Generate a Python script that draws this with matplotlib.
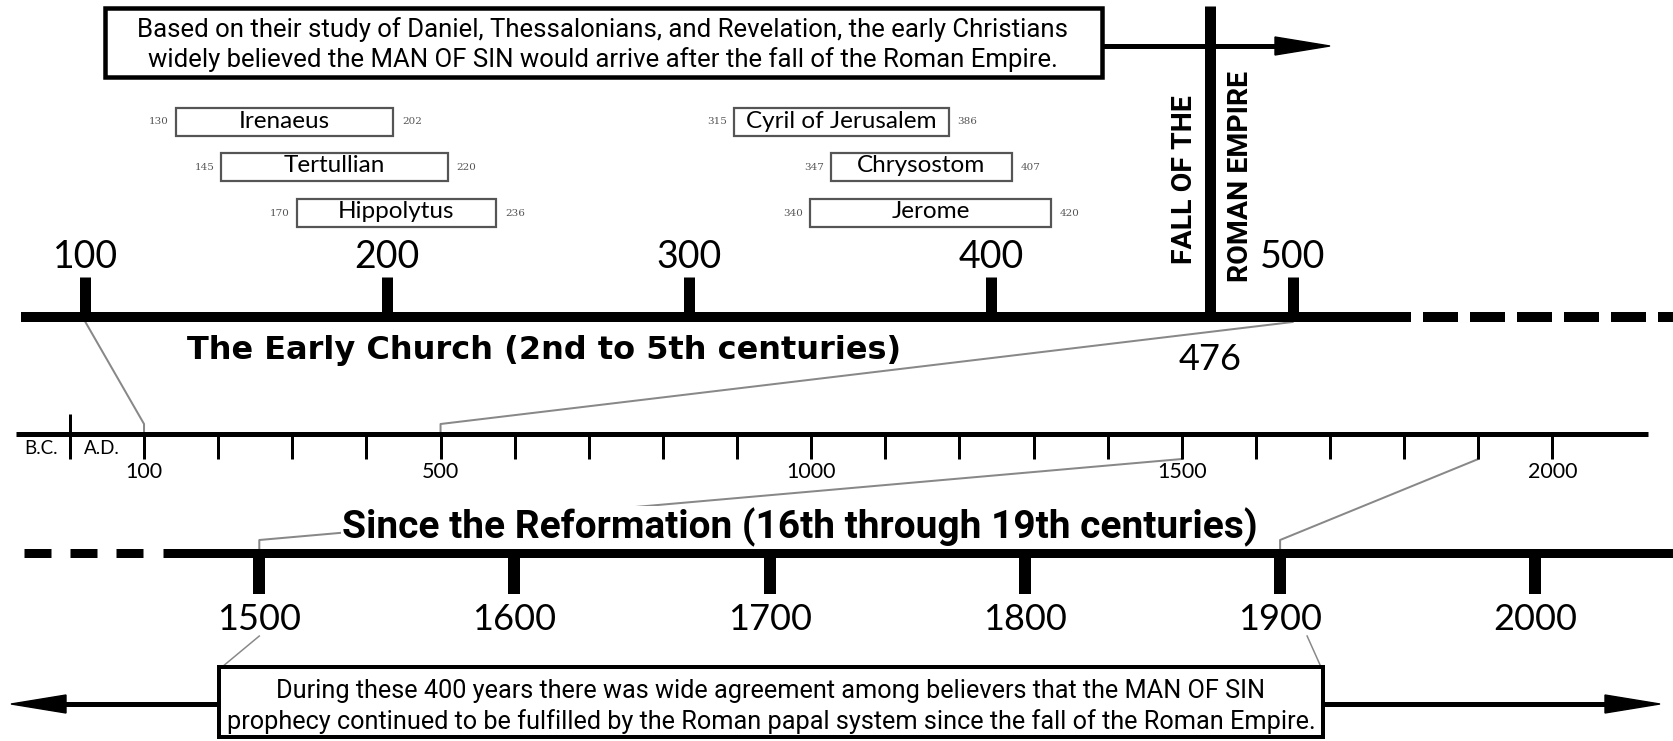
import matplotlib
matplotlib.use("Agg")
import matplotlib.pyplot as plt
from matplotlib.patches import Rectangle, Polygon
from matplotlib import font_manager as fm

# ---------------- data ----------------
names = ["Irenaeus", "Tertullian", "Hippolytus", "Cyril of Jerusalem", "Chrysostom", "Jerome"]
births = [130, 145, 170, 315, 347, 340]
deaths = [202, 220, 236, 386, 407, 420]
rows = [0, 1, 2, 0, 1, 2]

top_ticks = [100, 200, 300, 400, 500]
fall_year = 476
mid_ticks = list(range(100, 2001, 100))
mid_labels = [100, 500, 1000, 1500, 2000]
bottom_ticks = [1500, 1600, 1700, 1800, 1900, 2000]

top_note = ["Based on their study of Daniel, Thessalonians, and Revelation, the early Christians",
            "widely believed the MAN OF SIN would arrive after the fall of the Roman Empire."]
bottom_note = ["During these 400 years there was wide agreement among believers that the MAN OF SIN",
               "prophecy continued to be fulfilled by the Roman papal system since the fall of the Roman Empire."]
title_top = "The Early Church (2nd to 5th centuries)"
title_bottom = "Since the Reformation (16th through 19th centuries)"

# ---------------- fonts ----------------
avail = {f.name for f in fm.fontManager.ttflist}
NARROW = "Liberation Sans Narrow" if "Liberation Sans Narrow" in avail else "Roboto"
NUM = "Lato"

W, H = 1673, 741
fig = plt.figure(figsize=(W / 100, H / 100), dpi=100)
ax = fig.add_axes([0, 0, 1, 1])
ax.set_xlim(0, W)
ax.set_ylim(H, 0)
ax.axis("off")
plt.rcParams["lines.scale_dashes"] = False

def pt(px):
    return px * 0.72

# scales
def x_top(y):
    return 85.4 + (y - 100) * 3.018
def x_mid(y):
    return 69.9 + y * 0.7413
def x_bot(y):
    return 259.3 + (y - 1500) * 2.552

def arrow(x0, x1, y, lw=5, hl=55, hw=18):
    d = 1 if x1 > x0 else -1
    ax.plot([x0, x1 - d * hl * 0.8], [y, y], color="black", lw=pt(lw), solid_capstyle="butt")
    ax.add_patch(Polygon([[x1, y], [x1 - d * hl, y - hw / 2], [x1 - d * hl, y + hw / 2]],
                         closed=True, color="black"))

# ---------------- top note box ----------------
ax.add_patch(Rectangle((105, 8), 997, 69, fill=False, lw=pt(4.5), ec="black", zorder=3))
ax.text(603, 30, top_note[0], ha="center", va="center", fontsize=18.5, family=NARROW)
ax.text(603, 60, top_note[1], ha="center", va="center", fontsize=18.5, family=NARROW)
arrow(1102, 1330, 46)

# ---------------- fall of Rome bar ----------------
xf = x_top(fall_year) - 10
ax.plot([xf, xf], [6, 317], color="black", lw=pt(11), solid_capstyle="butt", zorder=4)
ax.text(xf - 26, 180, "FALL OF THE", rotation=90, ha="center", va="center",
        fontsize=20.5, fontweight="bold", family=NARROW)
ax.text(xf + 30, 176, "ROMAN EMPIRE", rotation=90, ha="center", va="center",
        fontsize=20.5, fontweight="bold", family=NARROW)
ax.text(xf, 360, str(fall_year), ha="center", va="center", fontsize=26, family=NUM)

# ---------------- name boxes ----------------
row_y = [122, 167, 213]
for n, b, d, r in zip(names, births, deaths, rows):
    x0, x1 = x_top(b), x_top(d)
    yc = row_y[r]
    ax.add_patch(Rectangle((x0, yc - 14), x1 - x0, 28, fill=False, lw=pt(2.2), ec="#555555"))
    ax.text((x0 + x1) / 2, yc - 1, n, ha="center", va="center", fontsize=17.5, family=NUM)
    ax.text(x0 - 7, yc, str(b), ha="right", va="center", fontsize=7.5, family="DejaVu Serif", color="#555555")
    ax.text(x1 + 9, yc, str(d), ha="left", va="center", fontsize=7.5, family="DejaVu Serif", color="#555555")

# ---------------- top timeline ----------------
ytop = 317
ax.plot([21, 1411], [ytop, ytop], color="black", lw=pt(10), solid_capstyle="butt")
ax.plot([1423, W], [ytop, ytop], color="black", lw=pt(10), solid_capstyle="butt",
        dashes=(pt(35), pt(12)))
for t in top_ticks:
    ax.plot([x_top(t), x_top(t)], [277, ytop], color="black", lw=pt(11), solid_capstyle="butt")
    ax.text(x_top(t), 257, str(t), ha="center", va="center", fontsize=27, family=NUM)
ax.text(544, 350, title_top, ha="center", va="center", fontsize=23, fontweight="bold",
        family="DejaVu Sans")

# ---------------- middle timeline ----------------
ymid = 434
ax.plot([16, 1648], [ymid, ymid], color="black", lw=pt(5), solid_capstyle="butt")
for t in mid_ticks:
    ax.plot([x_mid(t), x_mid(t)], [ymid, 459], color="black", lw=pt(3), solid_capstyle="butt")
ax.plot([x_mid(0), x_mid(0)], [414, 459], color="black", lw=pt(3), solid_capstyle="butt")
ax.text(x_mid(0) - 29, 449, "B.C.", ha="center", va="center", fontsize=13.5, family=NUM)
ax.text(x_mid(0) + 32, 449, "A.D.", ha="center", va="center", fontsize=13.5, family=NUM)
for t in mid_labels:
    ax.text(x_mid(t), 472, str(t), ha="center", va="center", fontsize=15.5, family=NUM)

# connectors top -> middle
gray = "#888888"
for t in (100, 500):
    ax.plot([x_top(t), x_mid(t), x_mid(t)], [322, 424, ymid], color=gray, lw=pt(2), zorder=1)

# ---------------- bottom timeline ----------------
ybot = 553
for t in (1500, 1900):
    ax.plot([x_mid(t), x_bot(t), x_bot(t)], [459, 540, ybot], color=gray, lw=pt(2), zorder=1)
ax.text(800, 527, title_bottom, ha="center", va="center", fontsize=28, fontweight="bold",
        family=NARROW, bbox=dict(fc="white", ec="none", pad=1), zorder=2)

ax.plot([24, 160], [ybot, ybot], color="black", lw=pt(9), solid_capstyle="butt",
        dashes=(pt(27), pt(19)))
ax.plot([163, W], [ybot, ybot], color="black", lw=pt(9), solid_capstyle="butt")
for t in bottom_ticks:
    ax.plot([x_bot(t), x_bot(t)], [ybot, 594], color="black", lw=pt(12), solid_capstyle="butt")
    ax.text(x_bot(t), 620, str(t), ha="center", va="center", fontsize=26, family=NUM)

# ---------------- bottom note ----------------
bx0, bx1, by0, by1 = 219, 1323, 667, 737
ax.plot([x_bot(1500), bx0 + 3], [636, by0], color=gray, lw=pt(1.5))
ax.plot([x_bot(1900) + 27, bx1 - 2], [636, by0], color=gray, lw=pt(1.5))
ax.add_patch(Rectangle((bx0, by0), bx1 - bx0, by1 - by0, fill=False, lw=pt(4), ec="black", zorder=3))
ax.text((bx0 + bx1) / 2, 691, bottom_note[0], ha="center", va="center", fontsize=18.2, family=NARROW)
ax.text((bx0 + bx1) / 2, 722, bottom_note[1], ha="center", va="center", fontsize=18.2, family=NARROW)
arrow(bx0, 11, 704)
arrow(bx1, 1660, 704)

fig.savefig("out.png", dpi=100)
